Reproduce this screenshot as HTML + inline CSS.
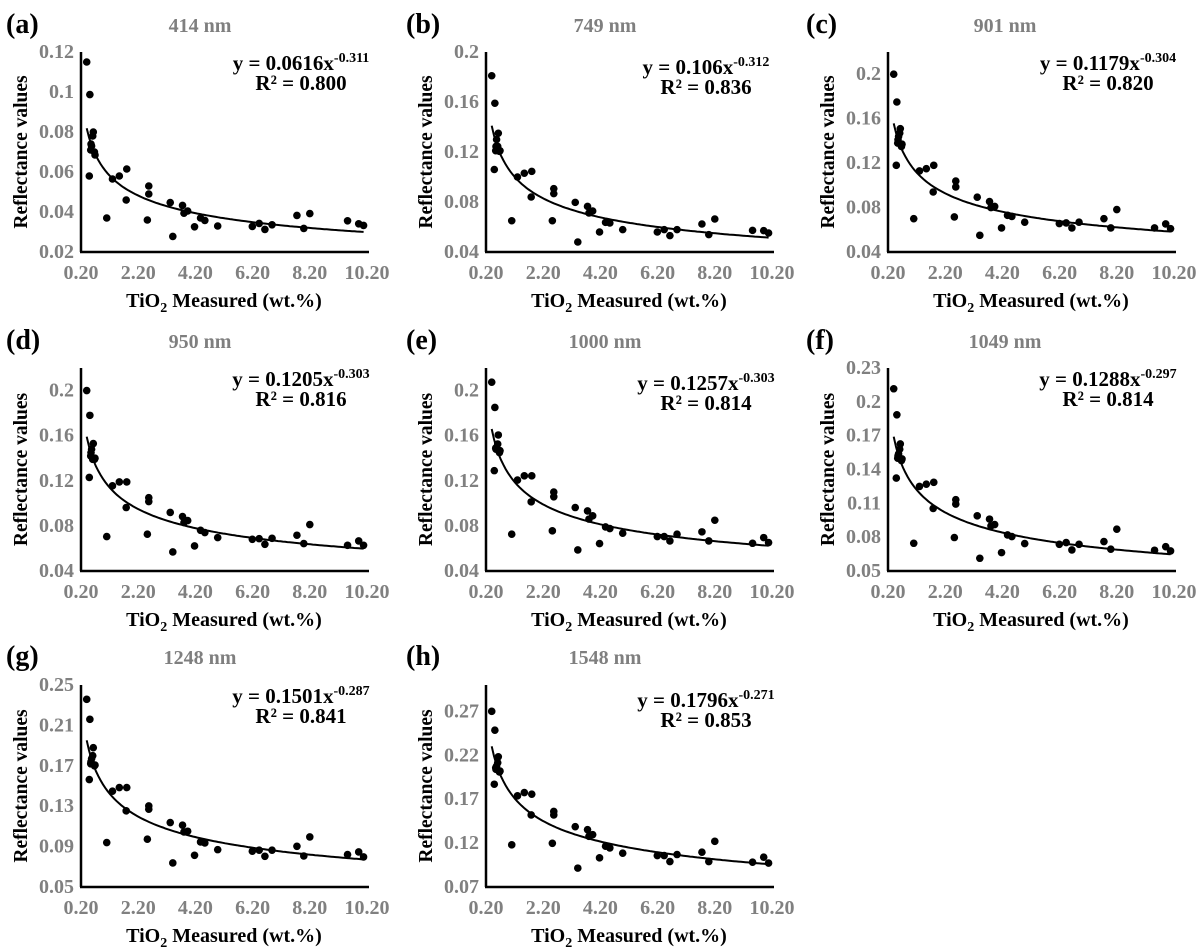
<!DOCTYPE html>
<html><head><meta charset="utf-8"><style>
body{margin:0;background:#fff}
svg{display:block}
svg text{font-family:"Liberation Serif","Times New Roman",serif;font-weight:bold}
</style></head><body>
<svg id="fig" width="1200" height="948" viewBox="0 0 1200 948" font-family="Liberation Serif, serif" font-weight="bold"></svg>
<script>
// Shared TiO2 measured values (x)
const tio2 = [0.40,0.51,0.49,0.55,0.57,0.54,0.63,0.61,0.67,0.69,1.1,1.3,1.54,1.8,1.78,2.52,2.57,2.57,3.32,3.41,3.75,3.8,3.93,4.17,4.38,4.53,4.98,6.19,6.43,6.63,6.88,7.75,7.99,8.2,9.52,9.91,10.08];
const r414 = [0.115,0.0987,0.058,0.074,0.073,0.071,0.080,0.078,0.070,0.0685,0.037,0.0565,0.058,0.0615,0.046,0.036,0.053,0.049,0.0447,0.0278,0.0433,0.0394,0.0405,0.0326,0.037,0.0358,0.033,0.0328,0.0343,0.0313,0.0336,0.0383,0.0318,0.0392,0.0356,0.0341,0.0333];
const r749 = [0.181,0.159,0.106,0.1245,0.130,0.121,0.135,0.1245,0.1205,0.121,0.065,0.100,0.103,0.1045,0.084,0.065,0.0907,0.0867,0.0797,0.048,0.0765,0.0712,0.0728,0.056,0.0637,0.0632,0.0579,0.056,0.0579,0.0531,0.0579,0.0624,0.0539,0.0664,0.0573,0.0571,0.0552];
const r901 = [0.200,0.175,0.118,0.141,0.144,0.138,0.151,0.147,0.135,0.137,0.070,0.113,0.115,0.118,0.094,0.0716,0.1038,0.0986,0.0893,0.055,0.0854,0.080,0.081,0.0617,0.073,0.072,0.0668,0.0656,0.0662,0.0617,0.0668,0.070,0.0617,0.0782,0.0617,0.0653,0.061];
const r950 = [0.200,0.178,0.123,0.145,0.148,0.142,0.153,0.139,0.139,0.140,0.0705,0.1155,0.119,0.119,0.0963,0.0726,0.105,0.1016,0.0919,0.0569,0.0883,0.083,0.0847,0.0622,0.0761,0.0741,0.0696,0.0681,0.0687,0.0637,0.069,0.0717,0.0643,0.0812,0.0628,0.0667,0.0628];
const r1000 = [0.2074,0.185,0.129,0.148,0.1496,0.149,0.1606,0.1526,0.145,0.1467,0.0726,0.1206,0.1244,0.1244,0.1013,0.0756,0.110,0.1058,0.0963,0.0587,0.0933,0.086,0.0889,0.0643,0.0791,0.0776,0.0735,0.0705,0.0705,0.0667,0.0726,0.0747,0.0667,0.085,0.0646,0.0696,0.0652];
const r1049 = [0.2116,0.1885,0.1324,0.152,0.1538,0.150,0.1627,0.158,0.1479,0.1494,0.0746,0.125,0.127,0.1286,0.1055,0.0797,0.1132,0.1093,0.0989,0.0613,0.096,0.090,0.0912,0.0663,0.082,0.0805,0.0743,0.0737,0.0752,0.0687,0.0737,0.0761,0.0693,0.0871,0.0684,0.0716,0.0678];
const r1248 = [0.2358,0.216,0.1564,0.174,0.177,0.172,0.1879,0.18,0.17,0.1707,0.094,0.1449,0.1485,0.1485,0.1254,0.0973,0.1303,0.127,0.1138,0.0738,0.1112,0.1045,0.1052,0.0814,0.0946,0.0936,0.087,0.0854,0.0864,0.0804,0.0864,0.0903,0.0807,0.0996,0.0821,0.0847,0.0798];
const r1548 = [0.27,0.2485,0.187,0.204,0.2077,0.2058,0.2183,0.2115,0.201,0.202,0.118,0.1738,0.1775,0.1757,0.152,0.1198,0.156,0.152,0.1387,0.0915,0.1353,0.1277,0.1296,0.1032,0.1164,0.1145,0.1085,0.1058,0.1058,0.099,0.107,0.1096,0.099,0.122,0.0983,0.104,0.0972];
const xTicks = ["0.20","2.20","4.20","6.20","8.20","10.20"];
const xTickVals = [0.2,2.2,4.2,6.2,8.2,10.2];
const panels = [
 {id:"a",wl:"414 nm",y:r414,ymin:0.02,ymax:0.12,ticks:[0.02,0.04,0.06,0.08,0.1,0.12],labs:["0.02","0.04","0.06","0.08","0.1","0.12"],a:0.0616,b:-0.311,eq:"0.0616",ex:"-0.311",r2:"0.800"},
 {id:"b",wl:"749 nm",y:r749,ymin:0.04,ymax:0.2,ticks:[0.04,0.08,0.12,0.16,0.2],labs:["0.04","0.08","0.12","0.16","0.2"],a:0.106,b:-0.312,eq:"0.106",ex:"-0.312",r2:"0.836"},
 {id:"c",wl:"901 nm",y:r901,ymin:0.04,ymax:0.22,ticks:[0.04,0.08,0.12,0.16,0.2],labs:["0.04","0.08","0.12","0.16","0.2"],a:0.1179,b:-0.304,eq:"0.1179",ex:"-0.304",r2:"0.820"},
 {id:"d",wl:"950 nm",y:r950,ymin:0.04,ymax:0.22,ticks:[0.04,0.08,0.12,0.16,0.2],labs:["0.04","0.08","0.12","0.16","0.2"],a:0.1205,b:-0.303,eq:"0.1205",ex:"-0.303",r2:"0.816"},
 {id:"e",wl:"1000 nm",y:r1000,ymin:0.04,ymax:0.22,ticks:[0.04,0.08,0.12,0.16,0.2],labs:["0.04","0.08","0.12","0.16","0.2"],a:0.1257,b:-0.303,eq:"0.1257",ex:"-0.303",r2:"0.814"},
 {id:"f",wl:"1049 nm",y:r1049,ymin:0.05,ymax:0.23,ticks:[0.05,0.08,0.11,0.14,0.17,0.2,0.23],labs:["0.05","0.08","0.11","0.14","0.17","0.2","0.23"],a:0.1288,b:-0.297,eq:"0.1288",ex:"-0.297",r2:"0.814"},
 {id:"g",wl:"1248 nm",y:r1248,ymin:0.05,ymax:0.25,ticks:[0.05,0.09,0.13,0.17,0.21,0.25],labs:["0.05","0.09","0.13","0.17","0.21","0.25"],a:0.1501,b:-0.287,eq:"0.1501",ex:"-0.287",r2:"0.841"},
 {id:"h",wl:"1548 nm",y:r1548,ymin:0.07,ymax:0.30,ticks:[0.07,0.12,0.17,0.22,0.27],labs:["0.07","0.12","0.17","0.22","0.27"],a:0.1796,b:-0.271,eq:"0.1796",ex:"-0.271",r2:"0.853"}
];
const colX=[81,486,888], rowTop=[52,368,685], rowBot=[252,571,887], ox=[0,400,800], oy=[0,316,632];
const NS="http://www.w3.org/2000/svg", svg=document.getElementById("fig");
const FF="Liberation Serif, Times New Roman, serif";
function el(tag,attrs,parent,text){const e=document.createElementNS(NS,tag);for(const k in attrs)e.setAttribute(k,attrs[k]);if(tag==="text"){e.setAttribute("font-family",FF);e.setAttribute("font-weight","bold");}if(text!==undefined)e.textContent=text;(parent||svg).appendChild(e);return e;}
panels.forEach((p,i)=>{
  const c=i%3,r=Math.floor(i/3);
  const x0=colX[c],x1=x0+286,yT=rowTop[r],yB=rowBot[r];
  const sx=v=>x0+(v-0.2)/10*(x1-x0);
  const sy=v=>yB-(v-p.ymin)/(p.ymax-p.ymin)*(yB-yT);
  const g=el("g",{});
  
  
  const lt=el("text",{x:ox[c]+6,y:oy[r]+33,"font-size":28,fill:"#000"},g,"("+p.id+")");
  
  
  const tt=el("text",{x:ox[c]+(c==0?200:205),y:oy[r]+32,"font-size":20,fill:"#7f7f7f","text-anchor":"middle"},g,p.wl);
  
  
  p.ticks.forEach((t,k)=>{
    const tl=el("text",{x:x0-7,y:sy(t)+6,"font-size":20,fill:"#808080","text-anchor":"end"},g,p.labs[k]);
    
    
  });
  xTickVals.forEach((t,k)=>{
    const tl=el("text",{x:sx(t),y:yB+27,"font-size":20,fill:"#808080","text-anchor":"middle"},g,xTicks[k]);
    
    
  });
  const ya=el("line",{x1:x0,y1:yT,x2:x0,y2:yB,stroke:"#000","stroke-width":2.5},g);
  
  
  const xa=el("line",{x1:x0-1,y1:yB,x2:x1+2,y2:yB,stroke:"#000","stroke-width":2.5},g);
  
  
  const yt=el("text",{transform:`translate(${x0-54},${(yT+yB)/2}) rotate(-90)`,"font-size":19.5,"text-anchor":"middle",fill:"#000"},g,"Reflectance values");
  
  
  const xt=el("text",{x:(x0+x1)/2,y:yB+55,"font-size":20,"text-anchor":"middle",fill:"#000"},g);
  
  
  xt.innerHTML='TiO<tspan dy="5" font-size="14">2</tspan><tspan dy="-5"> Measured (wt.%)</tspan>';
  let d="";
  for(let k=0;k<=120;k++){const xv=0.4+(10.08-0.4)*k/120;const yv=p.a*Math.pow(xv,p.b);d+=(k?"L":"M")+sx(xv).toFixed(1)+","+sy(yv).toFixed(1);}
  const tl=el("path",{d:d,fill:"none",stroke:"#000","stroke-width":2},g);
  
  
  tio2.forEach((xv,k)=>{
    const pt=el("circle",{cx:sx(xv),cy:sy(p.y[k]),r:3.8,fill:"#000"},g);
    
    
  });
  const eq=el("text",{x:x1-66,y:yT+(c==1?22:18),"font-size":21,"text-anchor":"middle",fill:"#000"},g);
  
  
  eq.innerHTML='y = '+p.eq+'x<tspan dy="-8" font-size="14">'+p.ex+'</tspan>';
  const r2=el("text",{x:x1-66,y:yT+(c==1?42:38),"font-size":21,"text-anchor":"middle",fill:"#000"},g,"R² = "+p.r2);
  
  
});
</script>
</body></html>
